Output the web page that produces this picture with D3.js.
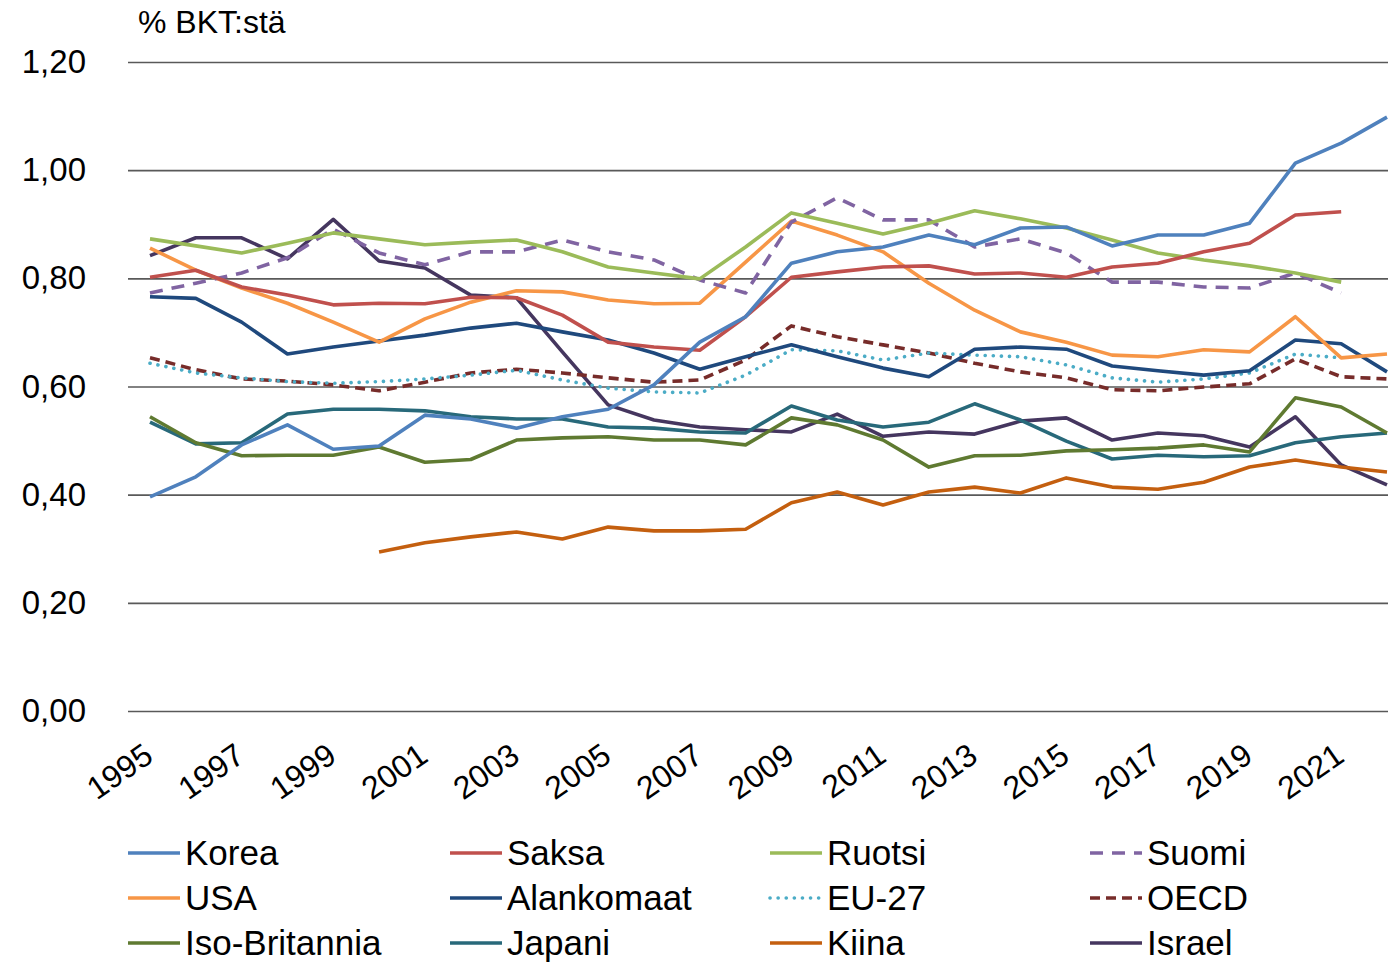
<!doctype html>
<html>
<head>
<meta charset="utf-8">
<title>T&K-menot % BKT:stä</title>
<script src="https://d3js.org/d3.v7.min.js"></script>
<style>
  body { margin: 0; background: #fff; }
  text { font-family: "Liberation Sans", Arial, sans-serif; fill: #000; }
</style>
</head>
<body>
<script>

// data (% of GDP), 1995-2022, null = no value
var years = d3.range(1995, 2023);
var yTicks = [0, 0.2, 0.4, 0.6, 0.8, 1.0, 1.2];

var korea = [0.396, 0.433, 0.492, 0.529, 0.484, 0.490, 0.547, 0.540, 0.523, 0.544, 0.558, 0.603, 0.682, 0.729,
             0.828, 0.849, 0.858, 0.880, 0.862, 0.893, 0.895, 0.860, 0.880, 0.880, 0.902, 1.013, 1.050, 1.098];
var saksa = [0.802, 0.815, 0.784, 0.769, 0.751, 0.754, 0.753, 0.765, 0.764, 0.732, 0.682, 0.673, 0.667, 0.729,
             0.802, 0.812, 0.821, 0.823, 0.808, 0.810, 0.802, 0.821, 0.828, 0.849, 0.865, 0.917, 0.923, null];
var ruotsi = [0.873, 0.860, 0.847, 0.865, 0.884, 0.873, 0.862, 0.867, 0.871, 0.849, 0.821, 0.810, 0.799, 0.858,
              0.921, 0.902, 0.882, 0.902, 0.925, 0.910, 0.893, 0.871, 0.847, 0.834, 0.823, 0.810, 0.793, null];
var suomi = [0.773, 0.791, 0.810, 0.838, 0.891, 0.847, 0.825, 0.849, 0.849, 0.871, 0.849, 0.834, 0.797, 0.773,
             0.904, 0.949, 0.908, 0.908, 0.858, 0.873, 0.847, 0.793, 0.793, 0.784, 0.782, 0.810, 0.773, null];
var usa = [0.856, 0.815, 0.782, 0.754, 0.719, 0.682, 0.725, 0.756, 0.777, 0.775, 0.760, 0.753, 0.754, 0.830,
           0.906, 0.880, 0.849, 0.791, 0.741, 0.701, 0.682, 0.658, 0.655, 0.668, 0.664, 0.729, 0.653, 0.660];
var alankomaat = [0.766, 0.763, 0.719, 0.660, 0.673, 0.684, 0.695, 0.708, 0.717, 0.701, 0.686, 0.662, 0.632, 0.655,
                  0.677, 0.655, 0.634, 0.618, 0.669, 0.673, 0.669, 0.638, 0.629, 0.621, 0.629, 0.686, 0.679, 0.627];
var eu27 = [0.643, 0.625, 0.616, 0.609, 0.606, 0.609, 0.614, 0.621, 0.630, 0.612, 0.597, 0.590, 0.588, 0.621,
            0.668, 0.666, 0.649, 0.662, 0.658, 0.655, 0.640, 0.616, 0.608, 0.614, 0.625, 0.660, 0.653, null];
var oecd = [0.653, 0.631, 0.614, 0.610, 0.603, 0.592, 0.608, 0.625, 0.632, 0.625, 0.616, 0.608, 0.612, 0.649,
            0.712, 0.692, 0.677, 0.662, 0.643, 0.627, 0.616, 0.594, 0.592, 0.599, 0.605, 0.651, 0.618, 0.614];
var isoBritannia = [0.544, 0.496, 0.472, 0.473, 0.473, 0.488, 0.460, 0.465, 0.501, 0.505, 0.507, 0.501, 0.501, 0.492,
                    0.542, 0.529, 0.501, 0.451, 0.472, 0.473, 0.481, 0.483, 0.486, 0.492, 0.479, 0.579, 0.562, 0.514];
var japani = [0.534, 0.494, 0.496, 0.549, 0.558, 0.558, 0.555, 0.544, 0.540, 0.540, 0.525, 0.523, 0.516, 0.514,
              0.564, 0.538, 0.525, 0.534, 0.568, 0.538, 0.499, 0.466, 0.473, 0.470, 0.472, 0.496, 0.507, 0.514];
var kiina = [null, null, null, null, null, 0.294, 0.311, 0.322, 0.331, 0.318, 0.340, 0.333, 0.333, 0.336,
             0.385, 0.405, 0.381, 0.405, 0.414, 0.403, 0.431, 0.414, 0.410, 0.423, 0.451, 0.464, 0.451, 0.442];
var israel = [0.842, 0.875, 0.875, 0.836, 0.909, 0.832, 0.819, 0.769, 0.764, 0.664, 0.566, 0.538, 0.525, 0.520,
              0.516, 0.549, 0.508, 0.516, 0.512, 0.536, 0.542, 0.501, 0.514, 0.509, 0.488, 0.544, 0.455, 0.418];

// legend order (row by row)
var seriesNames = ['Korea', 'Saksa', 'Ruotsi', 'Suomi', 'USA', 'Alankomaat', 'EU-27', 'OECD',
                   'Iso-Britannia', 'Japani', 'Kiina', 'Israel'];
var seriesValues = [korea, saksa, ruotsi, suomi, usa, alankomaat, eu27, oecd, isoBritannia, japani, kiina, israel];
var seriesColors = ['#4f81bd', '#c0504d', '#9bbb59', '#8064a2', '#f79646', '#1f497d', '#4bacc6', '#772c2a',
                    '#5f7a31', '#28697a', '#c45f0f', '#45365f'];
var seriesDash = [null, null, null, '13,9', null, null, '0.1,8', '10,6', null, null, null, null];

var width = 1388, height = 962;
var plotLeft = 128, plotRight = 1388, plotTop = 62, plotBottom = 711;

var svg = d3.select('body').append('svg')
    .attr('width', width)
    .attr('height', height);

var x = d3.scalePoint()
    .domain(years)
    .range([150, 1387]);

var y = d3.scaleLinear()
    .domain([0, 1.2])
    .range([plotBottom, plotTop]);

var fmt = function(d) { return d3.format('.2f')(d).replace('.', ','); };

// gridlines + y labels
var yAxis = d3.axisLeft(y)
    .tickValues(yTicks)
    .tickSize(-(plotRight - plotLeft))
    .tickPadding(42)
    .tickFormat(fmt);

var yg = svg.append('g')
    .attr('transform', 'translate(' + plotLeft + ',0)')
    .call(yAxis);
yg.select('.domain').remove();
yg.selectAll('.tick line').attr('stroke', '#595959').attr('stroke-width', 1.6);
yg.selectAll('.tick text')
    .style('font-size', '33px')
    .style('font-family', '"Liberation Sans", Arial, sans-serif')
    .attr('fill', '#000');

// unit label
svg.append('text')
    .attr('x', 138)
    .attr('y', 33)
    .style('font-size', '32px')
    .text('% BKT:stä');

// x labels (every second year)
var xg = svg.append('g');
xg.selectAll('text')
    .data(years.filter(function(d) { return (d - 1995) % 2 === 0; }))
    .enter()
    .append('text')
    .attr('transform', function(d) { return 'translate(' + (x(d) + 5) + ',760) rotate(-35)'; })
    .style('text-anchor', 'end')
    .style('font-size', '32px')
    .text(function(d) { return d; });

// lines
var line = d3.line()
    .defined(function(d) { return d !== null; })
    .x(function(d, i) { return x(years[i]); })
    .y(function(d) { return y(d); });

var lines = svg.append('g');
// draw in reverse so Korea sits on top like the original
d3.range(seriesNames.length).reverse().forEach(function(i) {
    lines.append('path')
        .datum(seriesValues[i])
        .attr('d', line)
        .attr('fill', 'none')
        .attr('stroke', seriesColors[i])
        .attr('stroke-width', 3.6)
        .attr('stroke-linejoin', 'round')
        .attr('stroke-linecap', seriesDash[i] === '0.1,8' ? 'round' : 'butt')
        .attr('stroke-dasharray', seriesDash[i]);
});

// legend
var legend = svg.append('g');
var colX = [128, 450, 770, 1090];
var rowY = [853, 898, 943];

seriesNames.forEach(function(name, i) {
    var cx = colX[i % 4], cy = rowY[Math.floor(i / 4)];
    var g = legend.append('g').attr('transform', 'translate(' + cx + ',' + cy + ')');
    g.append('line')
        .attr('x1', 0).attr('x2', 52)
        .attr('y1', 0).attr('y2', 0)
        .attr('stroke', seriesColors[i])
        .attr('stroke-width', 3.6)
        .attr('stroke-linecap', seriesDash[i] === '0.1,8' ? 'round' : 'butt')
        .attr('stroke-dasharray', seriesDash[i]);
    g.append('text')
        .attr('x', 57)
        .attr('y', 12)
        .style('font-size', '35px')
        .text(name);
});

</script>
</body>
</html>
